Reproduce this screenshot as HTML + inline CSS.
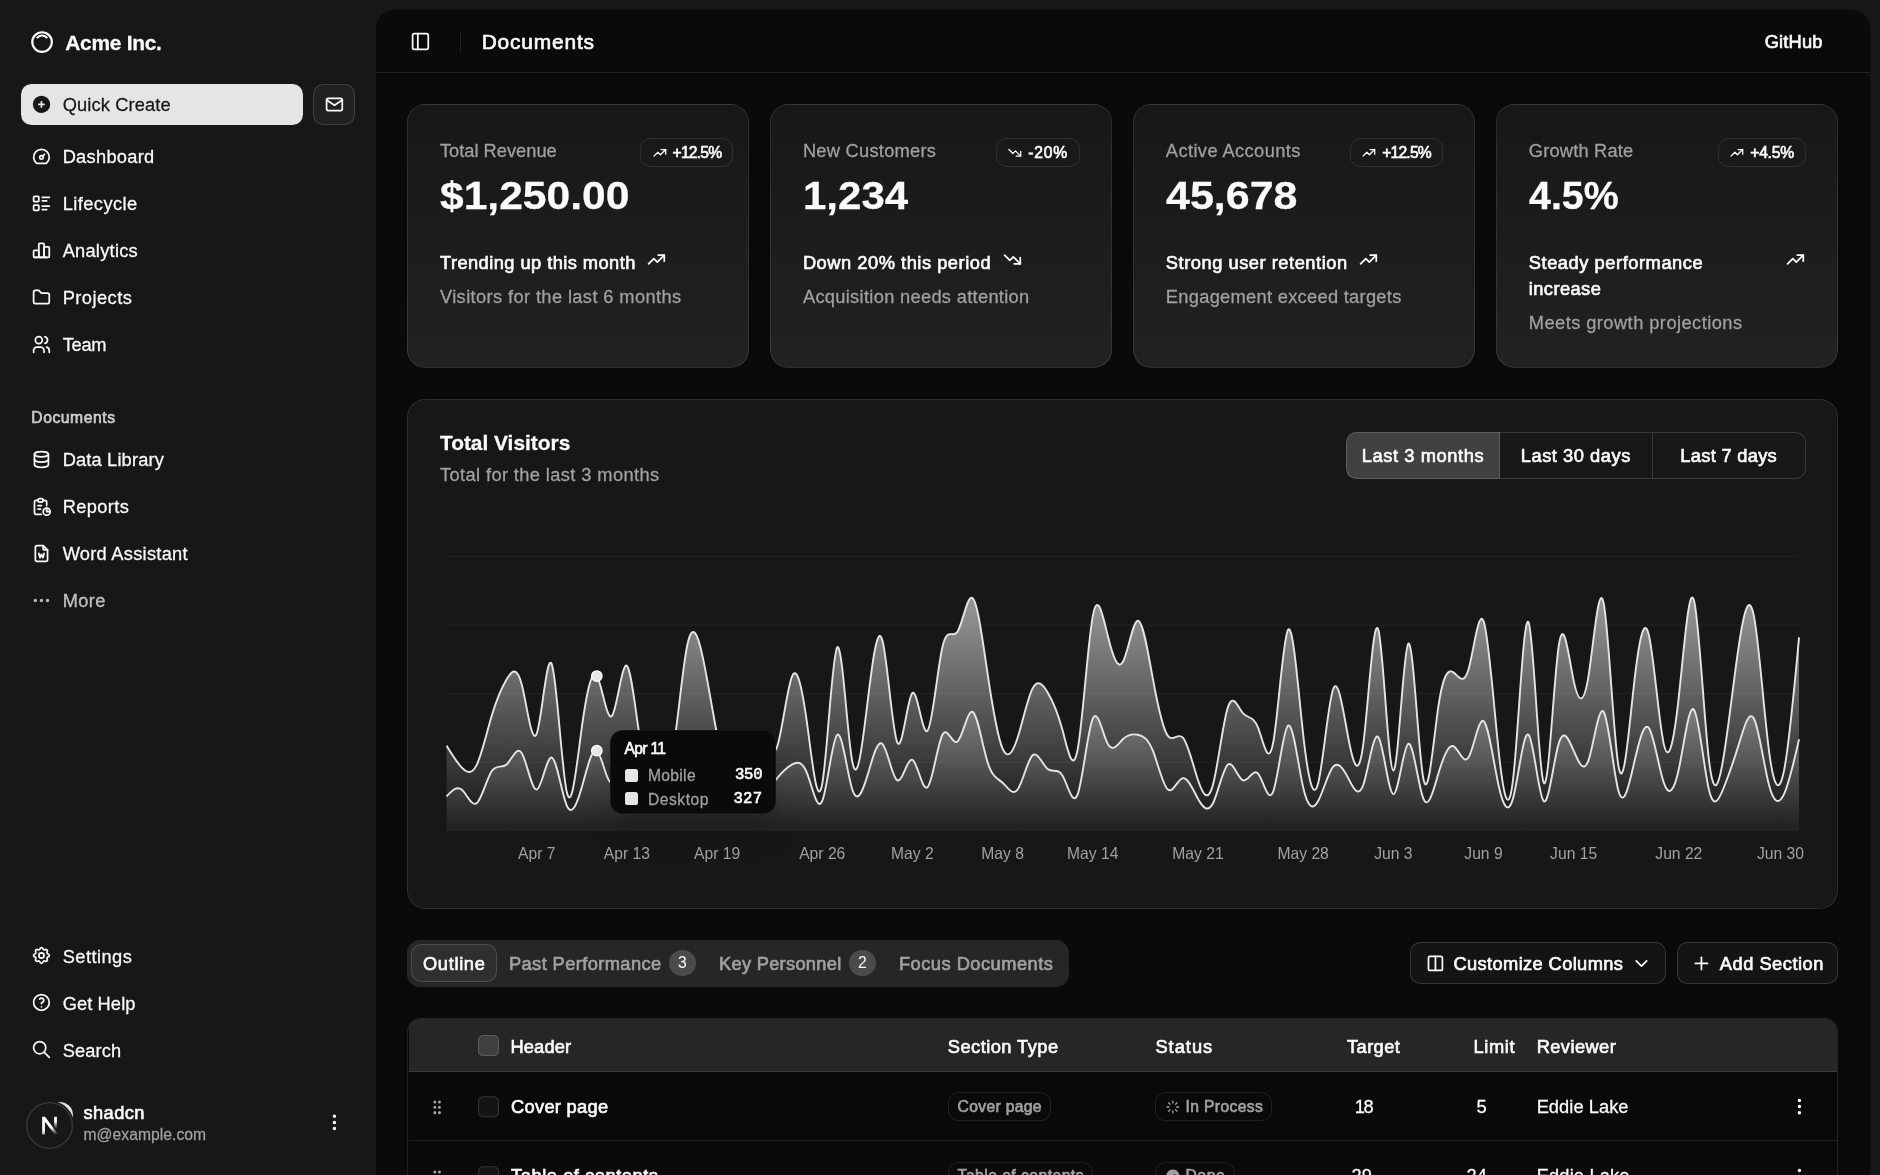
<!DOCTYPE html>
<html lang="en">
<head>
<meta charset="utf-8">
<title>Dashboard</title>
<style>
*{box-sizing:border-box;margin:0;padding:0}
html{zoom:1.305556;background:#171717}
body{width:1440px;height:900px;overflow:hidden;background:#171717;color:#fafafa;font-family:"Liberation Sans",sans-serif;font-size:14px;line-height:20px;position:relative;will-change:transform}
svg{display:block;flex:none}
.ic{width:16px;height:16px;fill:none;stroke:currentColor;stroke-width:2;stroke-linecap:round;stroke-linejoin:round}
.t{white-space:nowrap;display:inline-block;position:relative;top:.7px;-webkit-text-stroke:.2px}
#hdr h1 .t,#gh .t,.badge .t,.cf .l1 .t,#tg .t,.tab .t,.btn .t,.tr.h .t,.tr.r .lk,.ob .t,#uinfo .n,#tip .lbl .t,#tip .val,.glabel .t{-webkit-text-stroke:.5px}
/* sidebar */
#sb{position:absolute;left:0;top:0;width:288px;height:900px;padding:8px;display:flex;flex-direction:column}
#sbh{padding:8px}
.mb{display:flex;align-items:center;gap:8px;height:32px;padding:8px;border-radius:8px;font-size:14px;width:100%}
#sbh .mb{padding:6px}
#sbh .mb svg{width:20px;height:20px}
#sbh .mb .t{font-size:16px;font-weight:700;line-height:24px}
.grp{padding:8px;display:flex;flex-direction:column}
.menu{display:flex;flex-direction:column;gap:4px}
#qc{display:flex;gap:8px;margin-bottom:8px}
#qc .mb{background:#e5e5e5;color:#171717;flex:1}
#mailb{width:32px;height:32px;border:1px solid rgba(255,255,255,.15);background:rgba(255,255,255,.045);border-radius:8px;display:flex;align-items:center;justify-content:center;flex:none}
.glabel{height:32px;padding:0 8px;display:flex;align-items:center;font-size:12px;color:rgba(250,250,250,.7)}
.dim{color:rgba(250,250,250,.7)}
#sbc{flex:1;display:flex;flex-direction:column;gap:8px;min-height:0}
#sbf{padding:8px}
#user{display:flex;align-items:center;gap:8px;height:48px;padding:8px;border-radius:8px}
#avatar{width:32px;height:32px;border-radius:10px;background:radial-gradient(circle at 88% 14%,#e8e8e8 0,#cfcfcf 22%,#555 34%,#1c1c1c 46%);flex:none}
#uinfo{display:flex;flex-direction:column;flex:1;line-height:17.5px}
#uinfo .t{align-self:flex-start}
#uinfo .n{font-size:14px}
#uinfo .e{font-size:12px;color:#a1a1a1;line-height:16px}
#nextb{position:absolute;left:20px;top:844px;width:36px;height:36px;border-radius:50%;background:#181818;box-shadow:0 0 0 1px #3a3a3a inset, 0 0 0 1px #171717;display:flex;align-items:center;justify-content:center}
/* inset */
#inset{position:absolute;left:288px;top:8px;width:1144px;height:960px;background:#0a0a0a;border-radius:14px 14px 0 0;overflow:hidden}
#hdr{height:48px;border-bottom:1px solid rgba(255,255,255,.1);display:flex;align-items:center;padding:0 24px;gap:8px}
#trig{width:28px;height:28px;margin-left:-4px;display:flex;align-items:center;justify-content:center}
#hsep{width:1px;height:16px;background:rgba(255,255,255,.1);margin:0 8px}
#hdr h1{font-size:16px;font-weight:400;line-height:24px}
#hdr h1 .t{top:.2px}
#gh{margin-left:auto;height:32px;padding:0 12px;display:flex;align-items:center;font-size:14px}
#main{padding:24px 0;display:flex;flex-direction:column;gap:24px}
/* cards */
#cards{display:grid;grid-template-columns:repeat(4,1fr);gap:16px;padding:0 24px}
.card{background:#171717;border:1px solid rgba(255,255,255,.1);border-radius:14px;padding:24.234px .234px;display:flex;flex-direction:column;gap:24px;box-shadow:0 1px 2px rgba(0,0,0,.05)}
#cards .card{background:linear-gradient(to top,#222222,#171717)}
.ch{display:grid;grid-template-columns:1fr auto;grid-template-rows:auto auto;gap:6px;padding:0 24px;align-items:start}
.cd{color:#a1a1a1;font-size:14px;line-height:20px}
.ct{font-size:30px;line-height:36px;font-weight:700;grid-column:1}
.ca{grid-column:2;grid-row:1 / span 2;align-self:start;justify-self:end}
#cards .ca{padding-top:1px}
.badge{display:inline-flex;align-items:center;justify-content:center;gap:4px;border:1px solid rgba(255,255,255,.1);border-radius:8px;padding:2.234px 8.234px;font-size:12px;line-height:16px;white-space:nowrap}
.badge svg{width:12px;height:12px}
.cf{display:flex;flex-direction:column;align-items:flex-start;gap:6px;padding:0 24px;font-size:14px}
.cf .l1{display:flex;gap:8px}
.cf .l2{color:#a1a1a1}
/* chart */
#chartwrap{padding:0 24px}
#chartcard{position:relative}
#chartcard .ch{grid-template-rows:auto auto}
#ctitle{font-size:16px;line-height:16px;font-weight:700}
#tg{display:flex;height:36px;border-radius:8px;width:352px}
#tg div{flex:1;height:36px;padding:0;display:flex;align-items:center;justify-content:center;border:1px solid rgba(255,255,255,.15);border-left-width:0;font-size:14px}
#tg div:first-child{border-left-width:1px;border-radius:8px 0 0 8px;background:#414141}
#tg div:last-child{border-radius:0 8px 8px 0}
#cc{padding:24px 24px 0 24px}
#chart{width:1046px;height:250px;position:relative}
#chart svg{position:absolute;left:0;top:0;overflow:visible}
#tip{position:absolute;background:#0a0a0a;border:1px solid rgba(255,255,255,.05);border-radius:10px;padding:6px 10px;font-size:12px;line-height:16px;box-shadow:0 20px 25px -5px rgba(0,0,0,.1),0 8px 10px -6px rgba(0,0,0,.1);display:grid;gap:6px}
#tip .row{display:flex;align-items:center;gap:8px;height:12px;line-height:12px}
#tip .sq{width:10px;height:10px;border-radius:2px;background:#e5e5e5}
#tip .lab{color:#a1a1a1;flex:1}
#tip .val{font-family:"Liberation Mono",monospace}
/* tabs */
#tabsbar{display:flex;align-items:center;justify-content:space-between;padding:0 24px}
#tabs{display:inline-flex;height:36px;background:#262626;border-radius:10px;padding:3px;align-items:center;color:#a1a1a1}
.tab{height:29px;display:inline-flex;align-items:center;justify-content:center;gap:6px;border:1px solid transparent;border-radius:8px;padding:4px 8.234px;font-size:14px;white-space:nowrap}
.tab.act{color:#fafafa;border-color:rgba(255,255,255,.15);background:rgba(255,255,255,.045)}
.cnt{width:20px;height:20px;border-radius:50%;background:rgba(161,161,161,.3);color:#fafafa;font-size:12px;display:inline-flex;align-items:center;justify-content:center}
#btns{display:flex;gap:8px}
.btn{height:32px;border:1px solid rgba(255,255,255,.15);background:rgba(255,255,255,.045);border-radius:8px;padding:0 10.234px;display:flex;align-items:center;gap:6px;font-size:14px;box-shadow:0 1px 2px rgba(0,0,0,.05)}
/* table */
#tblwrap{padding:0 24px}
#tbl{border:1px solid rgba(255,255,255,.1);border-radius:10px;overflow:hidden;height:400px;padding:.234px}
.tr{display:flex;align-items:center;border-bottom:1px solid rgba(255,255,255,.1);position:relative}
.tr.h{height:40px;background:#262626}
.tr.r{height:53px}
.tr > *{position:absolute}
.tr > .t{top:calc(50% - 8.8px)}
.tr.r > :not(.t){transform:translateY(.9px)}
.grip svg{width:14px;height:14px;margin-top:1px}
.cb{width:16px;height:16px;border:1px solid rgba(255,255,255,.15);border-radius:4px;background:rgba(255,255,255,.045)}
.tr.h .cb{background:rgba(255,255,255,.12)}
.ob{display:inline-flex;align-items:center;gap:4px;border:1px solid rgba(255,255,255,.1);border-radius:8px;padding:2.234px 6.234px;font-size:12px;line-height:16px;color:#a1a1a1;white-space:nowrap}
.ob svg{width:12px;height:12px}
</style>
</head>
<body>
<div id="sb">
  <div id="sbh"><div class="mb"><svg class="ic" viewBox="0 0 24 24"><path d="M5.636 5.636a9 9 0 1 0 12.728 12.728a9 9 0 0 0 -12.728 -12.728z"/><path d="M16.243 7.757a6 6 0 0 0 -8.486 0"/></svg><span class="t" style="letter-spacing:-0.191px">Acme Inc.</span></div></div>
  <div id="sbc">
    <div class="grp">
      <div id="qc"><div class="mb"><svg class="ic" viewBox="0 0 24 24"><path stroke="none" fill="currentColor" d="M4.929 4.929a10 10 0 1 1 14.141 14.141a10 10 0 0 1 -14.14 -14.14zm8.071 4.071a1 1 0 1 0 -2 0v2h-2a1 1 0 1 0 0 2h2v2a1 1 0 1 0 2 0v-2h2a1 1 0 1 0 0 -2h-2v-2z"/></svg><span class="t" style="letter-spacing:0.097px">Quick Create</span></div><div id="mailb"><svg class="ic" viewBox="0 0 24 24"><path d="M3 7a2 2 0 0 1 2 -2h14a2 2 0 0 1 2 2v10a2 2 0 0 1 -2 2h-14a2 2 0 0 1 -2 -2v-10z"/><path d="M3 7l9 6l9 -6"/></svg></div></div>
      <div class="menu">
        <div class="mb"><svg class="ic" viewBox="0 0 24 24"><path d="M12 13m-2 0a2 2 0 1 0 4 0a2 2 0 1 0 -4 0"/><path d="M13.45 11.55l2.05 -2.05"/><path d="M6.4 20a9 9 0 1 1 11.2 0z"/></svg><span class="t" style="letter-spacing:0.220px">Dashboard</span></div>
        <div class="mb"><svg class="ic" viewBox="0 0 24 24"><path d="M13 5h8"/><path d="M13 9h5"/><path d="M13 15h8"/><path d="M13 19h5"/><path d="M3 4m0 1a1 1 0 0 1 1 -1h4a1 1 0 0 1 1 1v4a1 1 0 0 1 -1 1h-4a1 1 0 0 1 -1 -1z"/><path d="M3 14m0 1a1 1 0 0 1 1 -1h4a1 1 0 0 1 1 1v4a1 1 0 0 1 -1 1h-4a1 1 0 0 1 -1 -1z"/></svg><span class="t" style="letter-spacing:0.335px">Lifecycle</span></div>
        <div class="mb"><svg class="ic" viewBox="0 0 24 24"><path d="M3 13a1 1 0 0 1 1 -1h4a1 1 0 0 1 1 1v6a1 1 0 0 1 -1 1h-4a1 1 0 0 1 -1 -1z"/><path d="M15 9a1 1 0 0 1 1 -1h4a1 1 0 0 1 1 1v10a1 1 0 0 1 -1 1h-4a1 1 0 0 1 -1 -1z"/><path d="M9 5a1 1 0 0 1 1 -1h4a1 1 0 0 1 1 1v14a1 1 0 0 1 -1 1h-4a1 1 0 0 1 -1 -1z"/><path d="M4 20h14"/></svg><span class="t" style="letter-spacing:0.191px">Analytics</span></div>
        <div class="mb"><svg class="ic" viewBox="0 0 24 24"><path d="M5 4h4l3 3h7a2 2 0 0 1 2 2v8a2 2 0 0 1 -2 2h-14a2 2 0 0 1 -2 -2v-11a2 2 0 0 1 2 -2"/></svg><span class="t" style="letter-spacing:0.361px">Projects</span></div>
        <div class="mb"><svg class="ic" viewBox="0 0 24 24"><path d="M9 7m-4 0a4 4 0 1 0 8 0a4 4 0 1 0 -8 0"/><path d="M3 21v-2a4 4 0 0 1 4 -4h4a4 4 0 0 1 4 4v2"/><path d="M16 3.13a4 4 0 0 1 0 7.75"/><path d="M21 21v-2a4 4 0 0 0 -3 -3.85"/></svg><span class="t" style="letter-spacing:-0.179px">Team</span></div>
      </div>
    </div>
    <div class="grp">
      <div class="glabel"><span class="t" style="letter-spacing:0.431px">Documents</span></div>
      <div class="menu">
        <div class="mb"><svg class="ic" viewBox="0 0 24 24"><path d="M12 6m-8 0a8 3 0 1 0 16 0a8 3 0 1 0 -16 0"/><path d="M4 6v6a8 3 0 0 0 16 0v-6"/><path d="M4 12v6a8 3 0 0 0 16 0v-6"/></svg><span class="t" style="letter-spacing:0.122px">Data Library</span></div>
        <div class="mb"><svg class="ic" viewBox="0 0 24 24"><path d="M8 5h-2a2 2 0 0 0 -2 2v12a2 2 0 0 0 2 2h5.697"/><path d="M18 14v4h4"/><path d="M18 11v-4a2 2 0 0 0 -2 -2h-2"/><path d="M8 3m0 2a2 2 0 0 1 2 -2h2a2 2 0 0 1 2 2v0a2 2 0 0 1 -2 2h-2a2 2 0 0 1 -2 -2z"/><path d="M18 18m-4 0a4 4 0 1 0 8 0a4 4 0 1 0 -8 0"/><path d="M8 11h4"/><path d="M8 15h3"/></svg><span class="t" style="letter-spacing:0.287px">Reports</span></div>
        <div class="mb"><svg class="ic" viewBox="0 0 24 24"><path d="M14 3v4a1 1 0 0 0 1 1h4"/><path d="M17 21h-10a2 2 0 0 1 -2 -2v-14a2 2 0 0 1 2 -2h7l5 5v11a2 2 0 0 1 -2 2z"/><path d="M9 12l1.333 5l1.667 -4l1.667 4l1.333 -5"/></svg><span class="t" style="letter-spacing:0.206px">Word Assistant</span></div>
        <div class="mb dim"><svg class="ic" viewBox="0 0 24 24"><path d="M5 12m-1 0a1 1 0 1 0 2 0a1 1 0 1 0 -2 0"/><path d="M12 12m-1 0a1 1 0 1 0 2 0a1 1 0 1 0 -2 0"/><path d="M19 12m-1 0a1 1 0 1 0 2 0a1 1 0 1 0 -2 0"/></svg><span class="t" style="letter-spacing:0.319px">More</span></div>
      </div>
    </div>
    <div class="grp" style="margin-top:auto">
      <div class="menu">
        <div class="mb"><svg class="ic" viewBox="0 0 24 24"><path d="M10.325 4.317c.426 -1.756 2.924 -1.756 3.35 0a1.724 1.724 0 0 0 2.573 1.066c1.543 -.94 3.31 .826 2.37 2.37a1.724 1.724 0 0 0 1.065 2.572c1.756 .426 1.756 2.924 0 3.35a1.724 1.724 0 0 0 -1.066 2.573c.94 1.543 -.826 3.31 -2.37 2.37a1.724 1.724 0 0 0 -2.572 1.065c-.426 1.756 -2.924 1.756 -3.35 0a1.724 1.724 0 0 0 -2.573 -1.066c-1.543 .94 -3.31 -.826 -2.37 -2.37a1.724 1.724 0 0 0 -1.065 -2.572c-1.756 -.426 -1.756 -2.924 0 -3.35a1.724 1.724 0 0 0 1.066 -2.573c-.94 -1.543 .826 -3.31 2.37 -2.37c1 .608 2.296 .07 2.572 -1.065z"/><path d="M9 12a3 3 0 1 0 6 0a3 3 0 0 0 -6 0"/></svg><span class="t" style="letter-spacing:0.356px">Settings</span></div>
        <div class="mb"><svg class="ic" viewBox="0 0 24 24"><path d="M12 12m-9 0a9 9 0 1 0 18 0a9 9 0 1 0 -18 0"/><path d="M12 17l0 .01"/><path d="M12 13.5a1.5 1.5 0 0 1 1 -1.5a2.6 2.6 0 1 0 -3 -4"/></svg><span class="t" style="letter-spacing:0.082px">Get Help</span></div>
        <div class="mb"><svg class="ic" viewBox="0 0 24 24"><path d="M10 10m-7 0a7 7 0 1 0 14 0a7 7 0 1 0 -14 0"/><path d="M21 21l-6 -6"/></svg><span class="t" style="letter-spacing:0.115px">Search</span></div>
      </div>
    </div>
  </div>
  <div id="sbf"><div id="user"><div id="avatar"></div><div id="uinfo"><span class="t n" style="letter-spacing:0.306px">shadcn</span><span class="t e" style="letter-spacing:0.032px">m@example.com</span></div><svg class="ic" viewBox="0 0 24 24"><path d="M12 12m-1 0a1 1 0 1 0 2 0a1 1 0 1 0 -2 0"/><path d="M12 19m-1 0a1 1 0 1 0 2 0a1 1 0 1 0 -2 0"/><path d="M12 5m-1 0a1 1 0 1 0 2 0a1 1 0 1 0 -2 0"/></svg></div></div>
</div>
<div id="nextb"><svg width="21" height="21" viewBox="0 0 40 40"><defs><linearGradient id="ng1" x1="22" y1="16" x2="30" y2="33" gradientUnits="userSpaceOnUse"><stop offset="0.3" stop-color="#fff"/><stop offset="1" stop-color="#fff" stop-opacity="0"/></linearGradient><linearGradient id="ng2" x1="27" y1="9" x2="27" y2="24" gradientUnits="userSpaceOnUse"><stop offset="0.3" stop-color="#fff"/><stop offset="1" stop-color="#fff" stop-opacity="0"/></linearGradient></defs><path d="M9 7v26h4V14.2l17.2 22.3 3.2-2.4L13.2 7z" fill="url(#ng1)"/><rect x="26.5" y="7" width="4" height="19" fill="url(#ng2)"/></svg></div>
<div id="inset">
  <div id="hdr"><div id="trig"><svg class="ic" viewBox="0 0 24 24"><rect width="18" height="18" x="3" y="3" rx="2"/><path d="M9 3v18"/></svg></div><div id="hsep"></div><h1><span class="t" style="letter-spacing:0.641px">Documents</span></h1><div id="gh"><span class="t" style="letter-spacing:0.123px">GitHub</span></div></div>
  <div id="main">
    <div id="cards">
      <div class="card">
        <div class="ch"><div class="cd"><span class="t" style="letter-spacing:0.000px">Total Revenue</span></div><div class="ct"><span class="t" style="transform:scaleX(1.0867);transform-origin:0 50%">$1,250.00</span></div><div class="ca" style="margin-right:-12.5px"><span class="badge"><svg class="ic" viewBox="0 0 24 24"><path d="M3 17l6 -6l4 4l8 -8"/><path d="M14 7l7 0l0 7"/></svg><span class="t" style="letter-spacing:-0.613px">+12.5%</span></span></div></div>
        <div class="cf"><div class="l1"><span class="t" style="letter-spacing:0.339px">Trending up this month</span><svg class="ic" viewBox="0 0 24 24"><path d="M3 17l6 -6l4 4l8 -8"/><path d="M14 7l7 0l0 7"/></svg></div><div class="l2"><span class="t" style="letter-spacing:0.291px">Visitors for the last 6 months</span></div></div>
      </div>
      <div class="card">
        <div class="ch"><div class="cd"><span class="t" style="letter-spacing:0.204px">New Customers</span></div><div class="ct"><span class="t" style="transform:scaleX(1.0729);transform-origin:0 50%">1,234</span></div><div class="ca"><span class="badge"><svg class="ic" viewBox="0 0 24 24"><path d="M3 7l6 6l4 -4l8 8"/><path d="M21 10l0 7l-7 0"/></svg><span class="t" style="letter-spacing:0.613px">-20%</span></span></div></div>
        <div class="cf"><div class="l1"><span class="t" style="letter-spacing:0.403px">Down 20% this period</span><svg class="ic" viewBox="0 0 24 24"><path d="M3 7l6 6l4 -4l8 8"/><path d="M21 10l0 7l-7 0"/></svg></div><div class="l2"><span class="t" style="letter-spacing:0.236px">Acquisition needs attention</span></div></div>
      </div>
      <div class="card">
        <div class="ch"><div class="cd"><span class="t" style="letter-spacing:0.306px">Active Accounts</span></div><div class="ct"><span class="t" style="transform:scaleX(1.0975);transform-origin:0 50%">45,678</span></div><div class="ca"><span class="badge"><svg class="ic" viewBox="0 0 24 24"><path d="M3 17l6 -6l4 4l8 -8"/><path d="M14 7l7 0l0 7"/></svg><span class="t" style="letter-spacing:-0.613px">+12.5%</span></span></div></div>
        <div class="cf"><div class="l1"><span class="t" style="letter-spacing:0.410px">Strong user retention</span><svg class="ic" viewBox="0 0 24 24"><path d="M3 17l6 -6l4 4l8 -8"/><path d="M14 7l7 0l0 7"/></svg></div><div class="l2"><span class="t" style="letter-spacing:0.223px">Engagement exceed targets</span></div></div>
      </div>
      <div class="card">
        <div class="ch"><div class="cd"><span class="t" style="letter-spacing:0.146px">Growth Rate</span></div><div class="ct"><span class="t" style="transform:scaleX(1.0057);transform-origin:0 50%">4.5%</span></div><div class="ca"><span class="badge"><svg class="ic" viewBox="0 0 24 24"><path d="M3 17l6 -6l4 4l8 -8"/><path d="M14 7l7 0l0 7"/></svg><span class="t" style="letter-spacing:-0.191px">+4.5%</span></span></div></div>
        <div class="cf"><div class="l1" style="width:100%;justify-content:space-between"><span><span class="t" style="letter-spacing:0.424px">Steady performance</span><br><span class="t" style="letter-spacing:0.328px">increase</span></span><svg class="ic" viewBox="0 0 24 24"><path d="M3 17l6 -6l4 4l8 -8"/><path d="M14 7l7 0l0 7"/></svg></div><div class="l2"><span class="t" style="letter-spacing:0.340px">Meets growth projections</span></div></div>
      </div>
    </div>
    <div id="chartwrap"><div class="card" id="chartcard">
      <div class="ch"><div id="ctitle"><span class="t" style="letter-spacing:0.000px">Total Visitors</span></div><div class="cd" style="grid-column:1"><span class="t" style="letter-spacing:0.295px">Total for the last 3 months</span></div>
        <div class="ca"><div id="tg"><div><span class="t" style="letter-spacing:0.466px">Last 3 months</span></div><div><span class="t" style="letter-spacing:0.418px">Last 30 days</span></div><div><span class="t" style="letter-spacing:0.230px">Last 7 days</span></div></div></div></div>
      <div id="cc"><div id="chart">
        <svg width="1046" height="250" viewBox="0 0 1046 250">
          <defs>
            <linearGradient id="fd" x1="0" y1="0" x2="0" y2="1"><stop offset="5%" stop-color="#e5e5e5" stop-opacity="1"/><stop offset="95%" stop-color="#e5e5e5" stop-opacity="0.1"/></linearGradient>
            <linearGradient id="fm" x1="0" y1="0" x2="0" y2="1"><stop offset="5%" stop-color="#e5e5e5" stop-opacity="0.8"/><stop offset="95%" stop-color="#e5e5e5" stop-opacity="0.1"/></linearGradient>
          </defs>
          <g stroke="rgba(255,255,255,.045)" stroke-width="1"><line x1="5.0" x2="1041.0" y1="5.00" y2="5.00"/><line x1="5.0" x2="1041.0" y1="57.50" y2="57.50"/><line x1="5.0" x2="1041.0" y1="110.00" y2="110.00"/><line x1="5.0" x2="1041.0" y1="162.50" y2="162.50"/></g>
          <path d="M5.00,188.75C8.84,184.60,12.67,180.45,16.51,183.50C20.35,186.55,24.19,196.80,28.02,194.00C31.86,191.20,35.70,175.36,39.53,169.50C43.37,163.64,47.21,167.76,51.04,164.25C54.88,160.74,58.72,149.59,62.56,155.50C66.39,161.41,70.23,184.37,74.07,183.50C77.90,182.63,81.74,157.91,85.58,159.00C89.41,160.09,93.25,186.99,97.09,195.75C100.93,204.51,104.76,195.15,108.60,181.75C112.44,168.35,116.27,150.93,120.11,153.75C123.95,156.57,127.79,179.64,131.62,178.25C135.46,176.86,139.30,151.02,143.13,148.50C146.97,145.98,150.81,166.77,154.64,176.50C158.48,186.23,162.32,184.90,166.16,185.25C169.99,185.60,173.83,187.62,177.67,181.75C181.50,175.88,185.34,162.12,189.18,152.00C193.01,141.88,196.85,135.42,200.69,143.25C204.53,151.08,208.36,173.22,212.20,183.50C216.04,193.78,219.87,192.20,223.71,188.75C227.55,185.30,231.39,179.97,235.22,180.00C239.06,180.03,242.90,185.40,246.73,185.25C250.57,185.10,254.41,179.42,258.24,174.75C262.08,170.08,265.92,166.42,269.76,164.25C273.59,162.08,277.43,161.41,281.27,171.25C285.10,181.09,288.94,201.44,292.78,192.25C296.61,183.06,300.45,144.32,304.29,141.50C308.13,138.68,311.96,171.78,315.80,183.50C319.64,195.22,323.47,185.58,327.31,173.00C331.15,160.42,334.99,144.91,338.82,148.50C342.66,152.09,346.50,174.77,350.33,176.50C354.17,178.23,358.01,159.00,361.84,160.75C365.68,162.50,369.52,185.22,373.36,181.75C377.19,178.28,381.03,148.63,384.87,141.50C388.70,134.37,392.54,149.75,396.38,146.75C400.21,143.75,404.05,122.38,407.89,124.00C411.73,125.62,415.56,150.22,419.40,162.50C423.24,174.78,427.07,174.75,430.91,178.25C434.75,181.75,438.59,188.77,442.42,183.50C446.26,178.23,450.10,160.65,453.93,157.25C457.77,153.85,461.61,164.62,465.44,167.75C469.28,170.88,473.12,166.37,476.96,173.00C480.79,179.63,484.63,197.40,488.47,187.00C492.30,176.60,496.14,138.04,499.98,129.25C503.81,120.46,507.65,141.44,511.49,148.50C515.33,155.56,519.16,148.70,523.00,145.00C526.84,141.30,530.67,140.78,534.51,141.50C538.35,142.22,542.19,144.19,546.02,153.75C549.86,163.31,553.70,180.46,557.53,183.50C561.37,186.54,565.21,175.48,569.04,174.75C572.88,174.02,576.72,183.61,580.56,190.50C584.39,197.39,588.23,201.58,592.07,194.00C595.90,186.42,599.74,167.08,603.58,164.25C607.41,161.42,611.25,175.10,615.09,176.50C618.93,177.90,622.76,167.02,626.60,171.25C630.44,175.48,634.27,194.82,638.11,185.25C641.95,175.68,645.79,137.20,649.62,134.50C653.46,131.80,657.30,164.88,661.13,181.75C664.97,198.62,668.81,199.30,672.64,192.25C676.48,185.20,680.32,170.44,684.16,166.00C687.99,161.56,691.83,167.45,695.67,174.75C699.50,182.05,703.34,190.77,707.18,180.00C711.01,169.23,714.85,138.97,718.69,143.25C722.53,147.53,726.36,186.36,730.20,187.00C734.04,187.64,737.87,150.11,741.71,148.50C745.55,146.89,749.39,181.22,753.22,190.50C757.06,199.78,760.90,184.03,764.73,171.25C768.57,158.47,772.41,148.67,776.24,150.25C780.08,151.83,783.92,164.78,787.76,159.00C791.59,153.22,795.43,128.70,799.27,131.00C803.10,133.30,806.94,162.41,810.78,180.00C814.61,197.59,818.45,203.67,822.29,188.75C826.13,173.83,829.96,137.92,833.80,141.50C837.64,145.08,841.47,188.17,845.31,192.25C849.15,196.33,852.99,161.41,856.82,148.50C860.66,135.59,864.50,144.68,868.33,153.75C872.17,162.82,876.01,171.88,879.84,160.75C883.68,149.62,887.52,118.29,891.36,124.00C895.19,129.71,899.03,172.45,902.87,185.25C906.70,198.05,910.54,180.92,914.38,164.25C918.21,147.58,922.05,131.36,925.89,136.25C929.73,141.14,933.56,167.13,937.40,178.25C941.24,189.37,945.07,185.62,948.91,167.75C952.75,149.88,956.59,117.90,960.42,122.25C964.26,126.60,968.10,167.30,971.93,183.50C975.77,199.70,979.61,191.41,983.44,181.75C987.28,172.09,991.12,161.05,994.96,148.50C998.79,135.95,1002.63,121.90,1006.47,129.25C1010.30,136.60,1014.14,165.35,1017.98,180.00C1021.81,194.65,1025.65,195.18,1029.49,187.00C1033.33,178.82,1037.16,161.91,1041.00,145.00L1041.00,215.00L5.00,215.00Z" fill="url(#fm)" fill-opacity="0.6"/>
          <path d="M5.00,188.75C8.84,184.60,12.67,180.45,16.51,183.50C20.35,186.55,24.19,196.80,28.02,194.00C31.86,191.20,35.70,175.36,39.53,169.50C43.37,163.64,47.21,167.76,51.04,164.25C54.88,160.74,58.72,149.59,62.56,155.50C66.39,161.41,70.23,184.37,74.07,183.50C77.90,182.63,81.74,157.91,85.58,159.00C89.41,160.09,93.25,186.99,97.09,195.75C100.93,204.51,104.76,195.15,108.60,181.75C112.44,168.35,116.27,150.93,120.11,153.75C123.95,156.57,127.79,179.64,131.62,178.25C135.46,176.86,139.30,151.02,143.13,148.50C146.97,145.98,150.81,166.77,154.64,176.50C158.48,186.23,162.32,184.90,166.16,185.25C169.99,185.60,173.83,187.62,177.67,181.75C181.50,175.88,185.34,162.12,189.18,152.00C193.01,141.88,196.85,135.42,200.69,143.25C204.53,151.08,208.36,173.22,212.20,183.50C216.04,193.78,219.87,192.20,223.71,188.75C227.55,185.30,231.39,179.97,235.22,180.00C239.06,180.03,242.90,185.40,246.73,185.25C250.57,185.10,254.41,179.42,258.24,174.75C262.08,170.08,265.92,166.42,269.76,164.25C273.59,162.08,277.43,161.41,281.27,171.25C285.10,181.09,288.94,201.44,292.78,192.25C296.61,183.06,300.45,144.32,304.29,141.50C308.13,138.68,311.96,171.78,315.80,183.50C319.64,195.22,323.47,185.58,327.31,173.00C331.15,160.42,334.99,144.91,338.82,148.50C342.66,152.09,346.50,174.77,350.33,176.50C354.17,178.23,358.01,159.00,361.84,160.75C365.68,162.50,369.52,185.22,373.36,181.75C377.19,178.28,381.03,148.63,384.87,141.50C388.70,134.37,392.54,149.75,396.38,146.75C400.21,143.75,404.05,122.38,407.89,124.00C411.73,125.62,415.56,150.22,419.40,162.50C423.24,174.78,427.07,174.75,430.91,178.25C434.75,181.75,438.59,188.77,442.42,183.50C446.26,178.23,450.10,160.65,453.93,157.25C457.77,153.85,461.61,164.62,465.44,167.75C469.28,170.88,473.12,166.37,476.96,173.00C480.79,179.63,484.63,197.40,488.47,187.00C492.30,176.60,496.14,138.04,499.98,129.25C503.81,120.46,507.65,141.44,511.49,148.50C515.33,155.56,519.16,148.70,523.00,145.00C526.84,141.30,530.67,140.78,534.51,141.50C538.35,142.22,542.19,144.19,546.02,153.75C549.86,163.31,553.70,180.46,557.53,183.50C561.37,186.54,565.21,175.48,569.04,174.75C572.88,174.02,576.72,183.61,580.56,190.50C584.39,197.39,588.23,201.58,592.07,194.00C595.90,186.42,599.74,167.08,603.58,164.25C607.41,161.42,611.25,175.10,615.09,176.50C618.93,177.90,622.76,167.02,626.60,171.25C630.44,175.48,634.27,194.82,638.11,185.25C641.95,175.68,645.79,137.20,649.62,134.50C653.46,131.80,657.30,164.88,661.13,181.75C664.97,198.62,668.81,199.30,672.64,192.25C676.48,185.20,680.32,170.44,684.16,166.00C687.99,161.56,691.83,167.45,695.67,174.75C699.50,182.05,703.34,190.77,707.18,180.00C711.01,169.23,714.85,138.97,718.69,143.25C722.53,147.53,726.36,186.36,730.20,187.00C734.04,187.64,737.87,150.11,741.71,148.50C745.55,146.89,749.39,181.22,753.22,190.50C757.06,199.78,760.90,184.03,764.73,171.25C768.57,158.47,772.41,148.67,776.24,150.25C780.08,151.83,783.92,164.78,787.76,159.00C791.59,153.22,795.43,128.70,799.27,131.00C803.10,133.30,806.94,162.41,810.78,180.00C814.61,197.59,818.45,203.67,822.29,188.75C826.13,173.83,829.96,137.92,833.80,141.50C837.64,145.08,841.47,188.17,845.31,192.25C849.15,196.33,852.99,161.41,856.82,148.50C860.66,135.59,864.50,144.68,868.33,153.75C872.17,162.82,876.01,171.88,879.84,160.75C883.68,149.62,887.52,118.29,891.36,124.00C895.19,129.71,899.03,172.45,902.87,185.25C906.70,198.05,910.54,180.92,914.38,164.25C918.21,147.58,922.05,131.36,925.89,136.25C929.73,141.14,933.56,167.13,937.40,178.25C941.24,189.37,945.07,185.62,948.91,167.75C952.75,149.88,956.59,117.90,960.42,122.25C964.26,126.60,968.10,167.30,971.93,183.50C975.77,199.70,979.61,191.41,983.44,181.75C987.28,172.09,991.12,161.05,994.96,148.50C998.79,135.95,1002.63,121.90,1006.47,129.25C1010.30,136.60,1014.14,165.35,1017.98,180.00C1021.81,194.65,1025.65,195.18,1029.49,187.00C1033.33,178.82,1037.16,161.91,1041.00,145.00" fill="none" stroke="#e5e5e5" stroke-width="1.45"/>
          <path d="M5.00,149.90C8.84,156.19,12.67,162.47,16.51,166.53C20.35,170.58,24.19,172.40,28.02,164.78C31.86,157.15,35.70,140.08,39.53,127.15C43.37,114.22,47.21,105.45,51.04,98.97C54.88,92.50,58.72,88.33,62.56,102.83C66.39,117.32,70.23,150.47,74.07,140.62C77.90,130.78,81.74,77.95,85.58,87.42C89.41,96.90,93.25,168.67,97.09,185.43C100.93,202.18,104.76,163.93,108.60,136.07C112.44,108.22,116.27,90.76,120.11,96.53C123.95,102.29,127.79,131.29,131.62,127.15C135.46,123.01,139.30,85.73,143.13,88.65C146.97,91.57,150.81,134.69,154.64,152.53C158.48,170.36,162.32,162.91,166.16,164.25C169.99,165.59,173.83,175.71,177.67,157.60C181.50,139.49,185.34,93.14,189.18,73.95C193.01,54.76,196.85,62.74,200.69,79.55C204.53,96.36,208.36,122.02,212.20,140.97C216.04,159.93,219.87,172.18,223.71,173.18C227.55,174.17,231.39,163.90,235.22,156.03C239.06,148.15,242.90,142.66,246.73,146.05C250.57,149.44,254.41,161.72,258.24,150.60C262.08,139.48,265.92,104.98,269.76,96.53C273.59,88.07,277.43,105.67,281.27,133.62C285.10,161.58,288.94,199.91,292.78,179.12C296.61,158.34,300.45,78.46,304.29,74.47C308.13,70.49,311.96,142.41,315.80,162.15C319.64,181.89,323.47,149.45,327.31,117.88C331.15,86.30,334.99,55.60,338.82,69.05C342.66,82.50,346.50,140.08,350.33,147.62C354.17,155.17,358.01,112.66,361.84,109.47C365.68,106.29,369.52,142.44,373.36,138.53C377.19,134.61,381.03,90.65,384.87,74.12C388.70,57.60,392.54,68.52,396.38,62.57C400.21,56.63,404.05,33.83,407.89,36.85C411.73,39.87,415.56,68.73,419.40,94.60C423.24,120.47,427.07,143.37,430.91,152.18C434.75,160.98,438.59,155.71,442.42,143.78C446.26,131.84,450.10,113.25,453.93,105.97C457.77,98.70,461.61,102.76,465.44,109.12C469.28,115.49,473.12,124.17,476.96,138.53C480.79,152.88,484.63,172.91,488.47,152.53C492.30,132.14,496.14,71.34,499.98,50.85C503.81,30.36,507.65,50.18,511.49,65.72C515.33,81.27,519.16,92.53,523.00,85.85C526.84,79.17,530.67,54.53,534.51,54.18C538.35,53.82,542.19,77.73,546.02,98.62C549.86,119.52,553.70,137.40,557.53,142.38C561.37,147.35,565.21,139.44,569.04,143.78C572.88,148.11,576.72,164.71,580.56,176.15C584.39,187.59,588.23,193.86,592.07,179.82C595.90,165.79,599.74,131.44,603.58,120.15C607.41,108.86,611.25,120.64,615.09,125.05C618.93,129.46,622.76,126.49,626.60,136.07C630.44,145.66,634.27,167.79,638.11,147.97C641.95,128.16,645.79,66.40,649.62,61.00C653.46,55.60,657.30,106.55,661.13,140.97C664.97,175.40,668.81,193.28,672.64,178.60C676.48,163.92,680.32,116.66,684.16,106.50C687.99,96.34,691.83,123.29,695.67,143.60C699.50,163.91,703.34,177.60,707.18,148.85C711.01,120.10,714.85,48.91,718.69,61.00C722.53,73.09,726.36,168.47,730.20,168.97C734.04,169.48,737.87,75.11,741.71,71.68C745.55,68.24,749.39,155.75,753.22,175.10C757.06,194.45,760.90,145.64,764.73,119.80C768.57,93.96,772.41,91.09,776.24,93.72C780.08,96.36,783.92,104.51,787.76,91.62C791.59,78.74,795.43,44.82,799.27,54.35C803.10,63.88,806.94,116.84,810.78,152.88C814.61,188.91,818.45,208.00,822.29,172.65C826.13,137.30,829.96,47.52,833.80,55.40C837.64,63.28,841.47,168.82,845.31,178.07C849.15,187.33,852.99,100.29,856.82,73.95C860.66,47.61,864.50,81.98,868.33,100.03C872.17,118.07,876.01,119.80,879.84,95.83C883.68,71.85,887.52,22.15,891.36,40.88C895.19,59.60,899.03,146.73,902.87,166.53C906.70,186.32,910.54,138.79,914.38,104.58C918.21,70.36,922.05,49.46,925.89,64.85C929.73,80.24,933.56,131.93,937.40,148.68C941.24,165.42,945.07,147.23,948.91,112.28C952.75,77.32,956.59,25.60,960.42,38.25C964.26,50.90,968.10,127.93,971.93,160.40C975.77,192.87,979.61,180.79,983.44,157.07C987.28,133.36,991.12,98.02,994.96,72.55C998.79,47.08,1002.63,31.48,1006.47,50.85C1010.30,70.22,1014.14,124.57,1017.98,153.93C1021.81,183.28,1025.65,187.64,1029.49,168.97C1033.33,150.31,1037.16,108.63,1041.00,66.95L1041.00,145.00C1037.16,161.91,1033.33,178.82,1029.49,187.00C1025.65,195.18,1021.81,194.65,1017.98,180.00C1014.14,165.35,1010.30,136.60,1006.47,129.25C1002.63,121.90,998.79,135.95,994.96,148.50C991.12,161.05,987.28,172.09,983.44,181.75C979.61,191.41,975.77,199.70,971.93,183.50C968.10,167.30,964.26,126.60,960.42,122.25C956.59,117.90,952.75,149.88,948.91,167.75C945.07,185.62,941.24,189.37,937.40,178.25C933.56,167.13,929.73,141.14,925.89,136.25C922.05,131.36,918.21,147.58,914.38,164.25C910.54,180.92,906.70,198.05,902.87,185.25C899.03,172.45,895.19,129.71,891.36,124.00C887.52,118.29,883.68,149.62,879.84,160.75C876.01,171.88,872.17,162.82,868.33,153.75C864.50,144.68,860.66,135.59,856.82,148.50C852.99,161.41,849.15,196.33,845.31,192.25C841.47,188.17,837.64,145.08,833.80,141.50C829.96,137.92,826.13,173.83,822.29,188.75C818.45,203.67,814.61,197.59,810.78,180.00C806.94,162.41,803.10,133.30,799.27,131.00C795.43,128.70,791.59,153.22,787.76,159.00C783.92,164.78,780.08,151.83,776.24,150.25C772.41,148.67,768.57,158.47,764.73,171.25C760.90,184.03,757.06,199.78,753.22,190.50C749.39,181.22,745.55,146.89,741.71,148.50C737.87,150.11,734.04,187.64,730.20,187.00C726.36,186.36,722.53,147.53,718.69,143.25C714.85,138.97,711.01,169.23,707.18,180.00C703.34,190.77,699.50,182.05,695.67,174.75C691.83,167.45,687.99,161.56,684.16,166.00C680.32,170.44,676.48,185.20,672.64,192.25C668.81,199.30,664.97,198.62,661.13,181.75C657.30,164.88,653.46,131.80,649.62,134.50C645.79,137.20,641.95,175.68,638.11,185.25C634.27,194.82,630.44,175.48,626.60,171.25C622.76,167.02,618.93,177.90,615.09,176.50C611.25,175.10,607.41,161.42,603.58,164.25C599.74,167.08,595.90,186.42,592.07,194.00C588.23,201.58,584.39,197.39,580.56,190.50C576.72,183.61,572.88,174.02,569.04,174.75C565.21,175.48,561.37,186.54,557.53,183.50C553.70,180.46,549.86,163.31,546.02,153.75C542.19,144.19,538.35,142.22,534.51,141.50C530.67,140.78,526.84,141.30,523.00,145.00C519.16,148.70,515.33,155.56,511.49,148.50C507.65,141.44,503.81,120.46,499.98,129.25C496.14,138.04,492.30,176.60,488.47,187.00C484.63,197.40,480.79,179.63,476.96,173.00C473.12,166.37,469.28,170.88,465.44,167.75C461.61,164.62,457.77,153.85,453.93,157.25C450.10,160.65,446.26,178.23,442.42,183.50C438.59,188.77,434.75,181.75,430.91,178.25C427.07,174.75,423.24,174.78,419.40,162.50C415.56,150.22,411.73,125.62,407.89,124.00C404.05,122.38,400.21,143.75,396.38,146.75C392.54,149.75,388.70,134.37,384.87,141.50C381.03,148.63,377.19,178.28,373.36,181.75C369.52,185.22,365.68,162.50,361.84,160.75C358.01,159.00,354.17,178.23,350.33,176.50C346.50,174.77,342.66,152.09,338.82,148.50C334.99,144.91,331.15,160.42,327.31,173.00C323.47,185.58,319.64,195.22,315.80,183.50C311.96,171.78,308.13,138.68,304.29,141.50C300.45,144.32,296.61,183.06,292.78,192.25C288.94,201.44,285.10,181.09,281.27,171.25C277.43,161.41,273.59,162.08,269.76,164.25C265.92,166.42,262.08,170.08,258.24,174.75C254.41,179.42,250.57,185.10,246.73,185.25C242.90,185.40,239.06,180.03,235.22,180.00C231.39,179.97,227.55,185.30,223.71,188.75C219.87,192.20,216.04,193.78,212.20,183.50C208.36,173.22,204.53,151.08,200.69,143.25C196.85,135.42,193.01,141.88,189.18,152.00C185.34,162.12,181.50,175.88,177.67,181.75C173.83,187.62,169.99,185.60,166.16,185.25C162.32,184.90,158.48,186.23,154.64,176.50C150.81,166.77,146.97,145.98,143.13,148.50C139.30,151.02,135.46,176.86,131.62,178.25C127.79,179.64,123.95,156.57,120.11,153.75C116.27,150.93,112.44,168.35,108.60,181.75C104.76,195.15,100.93,204.51,97.09,195.75C93.25,186.99,89.41,160.09,85.58,159.00C81.74,157.91,77.90,182.63,74.07,183.50C70.23,184.37,66.39,161.41,62.56,155.50C58.72,149.59,54.88,160.74,51.04,164.25C47.21,167.76,43.37,163.64,39.53,169.50C35.70,175.36,31.86,191.20,28.02,194.00C24.19,196.80,20.35,186.55,16.51,183.50C12.67,180.45,8.84,184.60,5.00,188.75Z" fill="url(#fd)" fill-opacity="0.6"/>
          <path d="M5.00,149.90C8.84,156.19,12.67,162.47,16.51,166.53C20.35,170.58,24.19,172.40,28.02,164.78C31.86,157.15,35.70,140.08,39.53,127.15C43.37,114.22,47.21,105.45,51.04,98.97C54.88,92.50,58.72,88.33,62.56,102.83C66.39,117.32,70.23,150.47,74.07,140.62C77.90,130.78,81.74,77.95,85.58,87.42C89.41,96.90,93.25,168.67,97.09,185.43C100.93,202.18,104.76,163.93,108.60,136.07C112.44,108.22,116.27,90.76,120.11,96.53C123.95,102.29,127.79,131.29,131.62,127.15C135.46,123.01,139.30,85.73,143.13,88.65C146.97,91.57,150.81,134.69,154.64,152.53C158.48,170.36,162.32,162.91,166.16,164.25C169.99,165.59,173.83,175.71,177.67,157.60C181.50,139.49,185.34,93.14,189.18,73.95C193.01,54.76,196.85,62.74,200.69,79.55C204.53,96.36,208.36,122.02,212.20,140.97C216.04,159.93,219.87,172.18,223.71,173.18C227.55,174.17,231.39,163.90,235.22,156.03C239.06,148.15,242.90,142.66,246.73,146.05C250.57,149.44,254.41,161.72,258.24,150.60C262.08,139.48,265.92,104.98,269.76,96.53C273.59,88.07,277.43,105.67,281.27,133.62C285.10,161.58,288.94,199.91,292.78,179.12C296.61,158.34,300.45,78.46,304.29,74.47C308.13,70.49,311.96,142.41,315.80,162.15C319.64,181.89,323.47,149.45,327.31,117.88C331.15,86.30,334.99,55.60,338.82,69.05C342.66,82.50,346.50,140.08,350.33,147.62C354.17,155.17,358.01,112.66,361.84,109.47C365.68,106.29,369.52,142.44,373.36,138.53C377.19,134.61,381.03,90.65,384.87,74.12C388.70,57.60,392.54,68.52,396.38,62.57C400.21,56.63,404.05,33.83,407.89,36.85C411.73,39.87,415.56,68.73,419.40,94.60C423.24,120.47,427.07,143.37,430.91,152.18C434.75,160.98,438.59,155.71,442.42,143.78C446.26,131.84,450.10,113.25,453.93,105.97C457.77,98.70,461.61,102.76,465.44,109.12C469.28,115.49,473.12,124.17,476.96,138.53C480.79,152.88,484.63,172.91,488.47,152.53C492.30,132.14,496.14,71.34,499.98,50.85C503.81,30.36,507.65,50.18,511.49,65.72C515.33,81.27,519.16,92.53,523.00,85.85C526.84,79.17,530.67,54.53,534.51,54.18C538.35,53.82,542.19,77.73,546.02,98.62C549.86,119.52,553.70,137.40,557.53,142.38C561.37,147.35,565.21,139.44,569.04,143.78C572.88,148.11,576.72,164.71,580.56,176.15C584.39,187.59,588.23,193.86,592.07,179.82C595.90,165.79,599.74,131.44,603.58,120.15C607.41,108.86,611.25,120.64,615.09,125.05C618.93,129.46,622.76,126.49,626.60,136.07C630.44,145.66,634.27,167.79,638.11,147.97C641.95,128.16,645.79,66.40,649.62,61.00C653.46,55.60,657.30,106.55,661.13,140.97C664.97,175.40,668.81,193.28,672.64,178.60C676.48,163.92,680.32,116.66,684.16,106.50C687.99,96.34,691.83,123.29,695.67,143.60C699.50,163.91,703.34,177.60,707.18,148.85C711.01,120.10,714.85,48.91,718.69,61.00C722.53,73.09,726.36,168.47,730.20,168.97C734.04,169.48,737.87,75.11,741.71,71.68C745.55,68.24,749.39,155.75,753.22,175.10C757.06,194.45,760.90,145.64,764.73,119.80C768.57,93.96,772.41,91.09,776.24,93.72C780.08,96.36,783.92,104.51,787.76,91.62C791.59,78.74,795.43,44.82,799.27,54.35C803.10,63.88,806.94,116.84,810.78,152.88C814.61,188.91,818.45,208.00,822.29,172.65C826.13,137.30,829.96,47.52,833.80,55.40C837.64,63.28,841.47,168.82,845.31,178.07C849.15,187.33,852.99,100.29,856.82,73.95C860.66,47.61,864.50,81.98,868.33,100.03C872.17,118.07,876.01,119.80,879.84,95.83C883.68,71.85,887.52,22.15,891.36,40.88C895.19,59.60,899.03,146.73,902.87,166.53C906.70,186.32,910.54,138.79,914.38,104.58C918.21,70.36,922.05,49.46,925.89,64.85C929.73,80.24,933.56,131.93,937.40,148.68C941.24,165.42,945.07,147.23,948.91,112.28C952.75,77.32,956.59,25.60,960.42,38.25C964.26,50.90,968.10,127.93,971.93,160.40C975.77,192.87,979.61,180.79,983.44,157.07C987.28,133.36,991.12,98.02,994.96,72.55C998.79,47.08,1002.63,31.48,1006.47,50.85C1010.30,70.22,1014.14,124.57,1017.98,153.93C1021.81,183.28,1025.65,187.64,1029.49,168.97C1033.33,150.31,1037.16,108.63,1041.00,66.95" fill="none" stroke="#e5e5e5" stroke-width="1.45"/>
          <g fill="#a1a1a1" font-size="12" text-anchor="middle" font-family="Liberation Sans, sans-serif"><text x="74.07" y="236.90">Apr 7</text><text x="143.13" y="236.90">Apr 13</text><text x="212.20" y="236.90">Apr 19</text><text x="292.78" y="236.90">Apr 26</text><text x="361.84" y="236.90">May 2</text><text x="430.91" y="236.90">May 8</text><text x="499.98" y="236.90">May 14</text><text x="580.56" y="236.90">May 21</text><text x="661.13" y="236.90">May 28</text><text x="730.20" y="236.90">Jun 3</text><text x="799.27" y="236.90">Jun 9</text><text x="868.33" y="236.90">Jun 15</text><text x="948.91" y="236.90">Jun 22</text><text x="1026.80" y="236.90">Jun 30</text></g>
          <circle cx="120.11" cy="153.75" r="4" fill="#e5e5e5" stroke="#fff" stroke-width="1"/>
          <circle cx="120.11" cy="96.53" r="4" fill="#e5e5e5" stroke="#fff" stroke-width="1"/>
        </svg>
        <div id="tip" style="left:130.6px;top:138px;width:127px;height:64.5px">
          <div class="lbl"><span class="t" style="letter-spacing:-0.536px">Apr 11</span></div>
          <div style="display:grid;gap:6px">
            <div class="row"><span class="sq"></span><span class="lab"><span class="t" style="letter-spacing:0.230px">Mobile</span></span><span class="val t" style="letter-spacing:-0.268px">350</span></div>
            <div class="row"><span class="sq"></span><span class="lab"><span class="t" style="letter-spacing:0.383px">Desktop</span></span><span class="val t" style="letter-spacing:0.115px">327</span></div>
          </div>
        </div>
      </div></div>
    </div></div>
    <div id="tabsbar">
      <div id="tabs"><div class="tab act"><span class="t" style="letter-spacing:0.511px">Outline</span></div><div class="tab"><span class="t" style="letter-spacing:0.306px">Past Performance</span><span class="cnt">3</span></div><div class="tab"><span class="t" style="letter-spacing:0.223px">Key Personnel</span><span class="cnt">2</span></div><div class="tab"><span class="t" style="letter-spacing:0.367px">Focus Documents</span></div></div>
      <div id="btns"><div class="btn"><svg class="ic" viewBox="0 0 24 24"><path d="M4 4m0 2a2 2 0 0 1 2 -2h12a2 2 0 0 1 2 2v12a2 2 0 0 1 -2 2h-12a2 2 0 0 1 -2 -2z"/><path d="M12 4l0 16"/></svg><span class="t" style="letter-spacing:0.287px">Customize Columns</span><svg class="ic" viewBox="0 0 24 24"><path d="M6 9l6 6l6 -6"/></svg></div><div class="btn"><svg class="ic" viewBox="0 0 24 24"><path d="M12 5l0 14"/><path d="M5 12l14 0"/></svg><span class="t" style="letter-spacing:0.383px">Add Section</span></div></div>
    </div>
    <div id="tblwrap"><div id="tbl">
      <div class="tr h">
        <span class="cb" style="left:53px"></span>
        <span class="t" style="left:78px;letter-spacing:0.115px">Header</span>
        <span class="t" style="left:413px;letter-spacing:0.348px">Section Type</span>
        <span class="t" style="left:572px;letter-spacing:0.766px">Status</span>
        <span class="t" style="right:334.5px;letter-spacing:0.306px">Target</span>
        <span class="t" style="right:246.5px;letter-spacing:0.460px">Limit</span>
        <span class="t" style="left:864px;letter-spacing:0.328px">Reviewer</span>
      </div>
      <div class="tr r">
        <span class="grip" style="left:15px;color:#a1a1a1"><svg class="ic" viewBox="0 0 24 24"><path d="M9 5m-1 0a1 1 0 1 0 2 0a1 1 0 1 0 -2 0"/><path d="M9 12m-1 0a1 1 0 1 0 2 0a1 1 0 1 0 -2 0"/><path d="M9 19m-1 0a1 1 0 1 0 2 0a1 1 0 1 0 -2 0"/><path d="M15 5m-1 0a1 1 0 1 0 2 0a1 1 0 1 0 -2 0"/><path d="M15 12m-1 0a1 1 0 1 0 2 0a1 1 0 1 0 -2 0"/><path d="M15 19m-1 0a1 1 0 1 0 2 0a1 1 0 1 0 -2 0"/></svg></span>
        <span class="cb" style="left:53px"></span>
        <span class="t lk" style="left:78.5px;letter-spacing:0.213px">Cover page</span>
        <span class="ob" style="left:413.5px"><span class="t" style="letter-spacing:0.255px">Cover page</span></span>
        <span class="ob" style="left:572px"><svg class="ic" viewBox="0 0 24 24"><path d="M12 6l0 -3"/><path d="M16.25 7.75l2.15 -2.15"/><path d="M18 12l3 0"/><path d="M16.25 16.25l2.15 2.15"/><path d="M12 18l0 3"/><path d="M7.75 16.25l-2.15 2.15"/><path d="M6 12l-3 0"/><path d="M7.75 7.75l-2.15 -2.15"/></svg><span class="t" style="letter-spacing:0.298px">In Process</span></span>
        <span class="t" style="right:356px;letter-spacing:-1.149px">18</span>
        <span class="t" style="right:268px;letter-spacing:0.306px">5</span>
        <span class="t" style="left:864px;letter-spacing:0.043px">Eddie Lake</span>
        <span style="left:1057px"><svg class="ic" viewBox="0 0 24 24"><path d="M12 12m-1 0a1 1 0 1 0 2 0a1 1 0 1 0 -2 0"/><path d="M12 19m-1 0a1 1 0 1 0 2 0a1 1 0 1 0 -2 0"/><path d="M12 5m-1 0a1 1 0 1 0 2 0a1 1 0 1 0 -2 0"/></svg></span>
      </div>
      <div class="tr r">
        <span class="grip" style="left:15px;color:#a1a1a1"><svg class="ic" viewBox="0 0 24 24"><path d="M9 5m-1 0a1 1 0 1 0 2 0a1 1 0 1 0 -2 0"/><path d="M9 12m-1 0a1 1 0 1 0 2 0a1 1 0 1 0 -2 0"/><path d="M9 19m-1 0a1 1 0 1 0 2 0a1 1 0 1 0 -2 0"/><path d="M15 5m-1 0a1 1 0 1 0 2 0a1 1 0 1 0 -2 0"/><path d="M15 12m-1 0a1 1 0 1 0 2 0a1 1 0 1 0 -2 0"/><path d="M15 19m-1 0a1 1 0 1 0 2 0a1 1 0 1 0 -2 0"/></svg></span>
        <span class="cb" style="left:53px"></span>
        <span class="t lk" style="left:78.5px;letter-spacing:0.419px">Table of contents</span>
        <span class="ob" style="left:413.5px"><span class="t" style="letter-spacing:0.359px">Table of contents</span></span>
        <span class="ob" style="left:572px"><svg class="ic" viewBox="0 0 24 24"><path stroke="none" fill="currentColor" d="M17 3.34a10 10 0 1 1 -14.995 8.984l-.005 -.324l.005 -.324a10 10 0 0 1 14.995 -8.336zm-1.293 5.953a1 1 0 0 0 -1.32 -.083l-.094 .083l-3.293 3.292l-1.293 -1.292l-.094 -.083a1 1 0 0 0 -1.403 1.403l.083 .094l2 2l.094 .083a1 1 0 0 0 1.226 0l.094 -.083l4 -4l.083 -.094a1 1 0 0 0 -.083 -1.32z"/></svg><span class="t" style="letter-spacing:0.511px">Done</span></span>
        <span class="t" style="right:356px;letter-spacing:0.100px">29</span>
        <span class="t" style="right:268px;letter-spacing:0.100px">24</span>
        <span class="t" style="left:864px;letter-spacing:0.128px">Eddie Lake</span>
        <span style="left:1057px"><svg class="ic" viewBox="0 0 24 24"><path d="M12 12m-1 0a1 1 0 1 0 2 0a1 1 0 1 0 -2 0"/><path d="M12 19m-1 0a1 1 0 1 0 2 0a1 1 0 1 0 -2 0"/><path d="M12 5m-1 0a1 1 0 1 0 2 0a1 1 0 1 0 -2 0"/></svg></span>
      </div>
    </div></div>
  </div>
</div>
</body>
</html>
